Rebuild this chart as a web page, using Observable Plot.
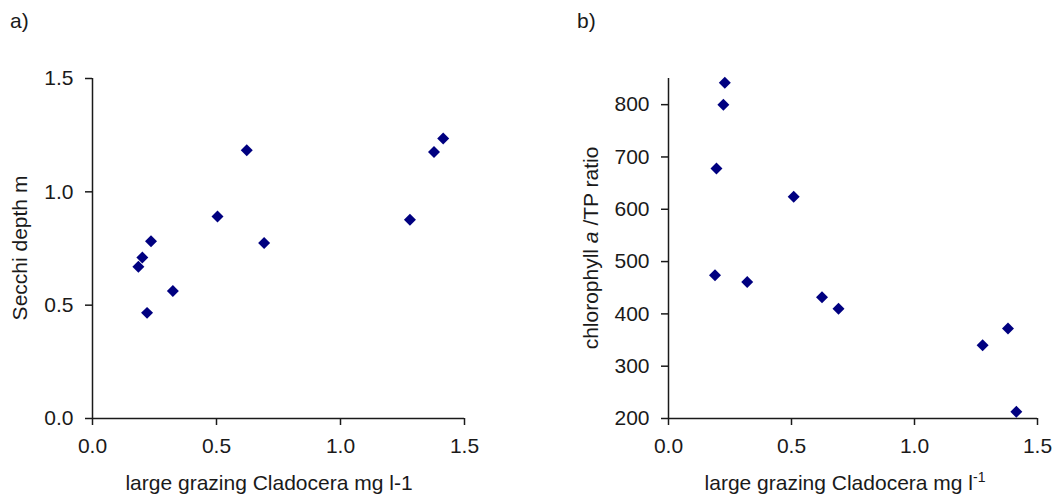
<!DOCTYPE html>
<html><head><meta charset="utf-8">
<script src="https://cdn.jsdelivr.net/npm/d3@7"></script>
<script src="https://cdn.jsdelivr.net/npm/@observablehq/plot@0.6"></script>
<style>
body{margin:0;background:#fff;}
#wrap{position:relative;width:1056px;height:497px;display:flex;background:#fff;}
</style></head><body>
<div id="wrap"></div>
<script>
// Panel a) Secchi depth vs large grazing Cladocera
const cladoceraA = [0.622, 1.377, 1.414, 0.504, 1.280, 0.692, 0.236, 0.201, 0.185, 0.324, 0.220];
const secchiDepth = [1.183, 1.176, 1.235, 0.891, 0.877, 0.774, 0.782, 0.710, 0.670, 0.562, 0.466];
// Panel b) chlorophyll a / TP ratio vs large grazing Cladocera
const cladoceraB = [0.229, 0.223, 0.195, 0.509, 0.189, 0.320, 0.624, 0.691, 1.277, 1.380, 1.414];
const chlTPratio = [842, 800, 678, 624, 474, 461, 432, 410, 340, 372, 213];
// Tick labels
const xTicks = [0, 0.5, 1.0, 1.5];
const yTicksA = [0, 0.5, 1.0, 1.5];
const yTicksB = [200, 300, 400, 500, 600, 700, 800];

const FONT = '"Liberation Sans", Arial, sans-serif';
const INK = "#1a1a1a";
const MARK = "#000080";

const dataA = cladoceraA.map((x, i) => ({x, y: secchiDepth[i]}));
const dataB = cladoceraB.map((x, i) => ({x, y: chlTPratio[i]}));

function panel({data, width, marginLeft, marginRight, yDomain, yTicks, yFormat}) {
  return Plot.plot({
    width, height: 497,
    marginLeft, marginRight, marginTop: 78, marginBottom: 79,
    style: {fontFamily: FONT, fontSize: "21px", color: INK, background: "white", overflow: "visible"},
    x: {domain: [0, 1.5]},
    y: {domain: yDomain},
    marks: [
      Plot.axisX(xTicks, {tickSize: 7, tickPadding: 13, strokeWidth: 1.5, stroke: INK, fill: INK, tickFormat: d => d.toFixed(1), label: null}),
      Plot.axisY(yTicks, {tickSize: 7, tickPadding: 12, strokeWidth: 1.5, stroke: INK, fill: INK, tickFormat: yFormat, label: null}),
      Plot.ruleX([0], {stroke: INK, strokeWidth: 1.5}),
      Plot.ruleY([yDomain[0]], {stroke: INK, strokeWidth: 1.5}),
      Plot.dot(data, {x: "x", y: "y", symbol: "diamond2", r: 5.4, fill: MARK, stroke: "none"})
    ]
  });
}

const wrap = document.getElementById("wrap");

const plotA = panel({data: dataA, width: 560, marginLeft: 92, marginRight: 96, yDomain: [0, 1.5], yTicks: yTicksA, yFormat: d => d.toFixed(1)});
const plotB = panel({data: dataB, width: 496, marginLeft: 108, marginRight: 19, yDomain: [200, 850], yTicks: yTicksB, yFormat: d => String(d)});
wrap.appendChild(plotA);
wrap.appendChild(plotB);

function addText(svg, {x, y, rotate = 0, anchor = "middle"}) {
  return d3.select(svg).append("text")
    .attr("transform", `translate(${x},${y}) rotate(${rotate})`)
    .attr("text-anchor", anchor)
    .attr("fill", INK)
    .style("font-family", FONT)
    .style("font-size", "21px");
}

// Panel a) texts
addText(plotA, {x: 10, y: 28, anchor: "start"}).text("a)");
addText(plotA, {x: 269, y: 490}).text("large grazing Cladocera mg l-1");
addText(plotA, {x: 27, y: 248, rotate: -90}).text("Secchi depth m");

// Panel b) texts
addText(plotB, {x: 17, y: 28, anchor: "start"}).text("b)");
const xb = addText(plotB, {x: 285, y: 490});
xb.append("tspan").text("large grazing Cladocera mg l");
xb.append("tspan").attr("dy", -8).style("font-size", "14px").text("-1");
const yb = addText(plotB, {x: 38, y: 248, rotate: -90});
yb.append("tspan").text("chlorophyll ");
yb.append("tspan").style("font-style", "italic").text("a");
yb.append("tspan").text(" /TP ratio");
</script>
</body></html>
